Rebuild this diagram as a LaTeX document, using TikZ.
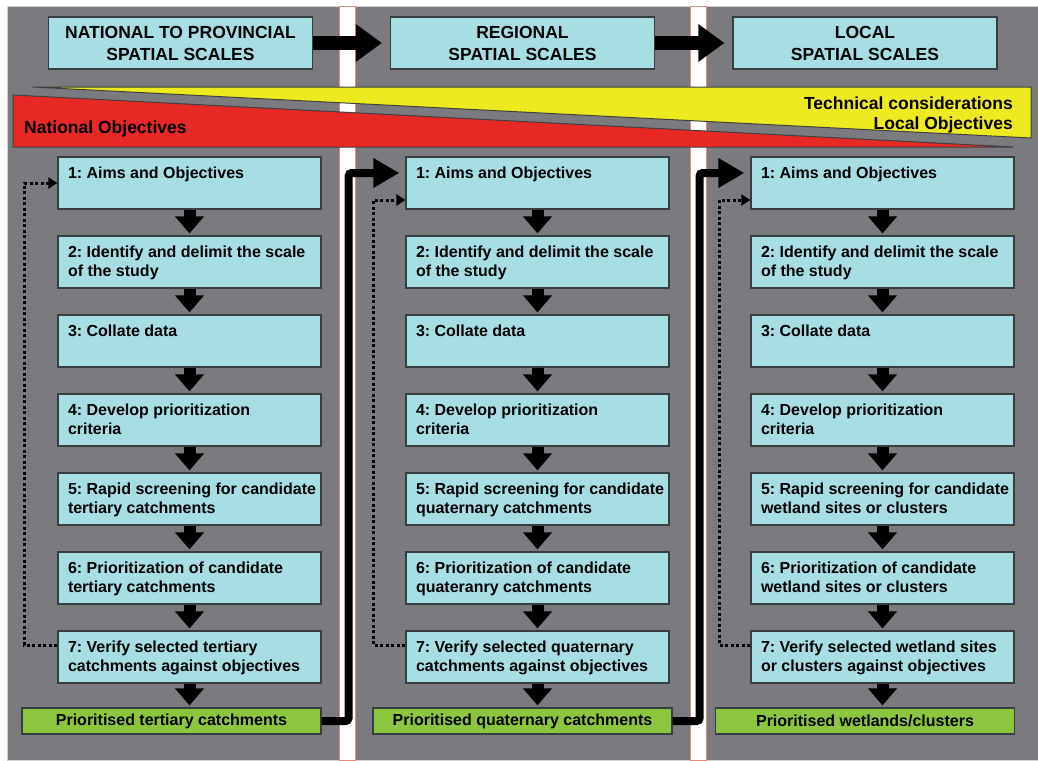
\documentclass[tikz,border=0pt]{standalone}
\usepackage{fontspec}
\setmainfont{Liberation Sans}
\usetikzlibrary{arrows.meta,positioning}
\frenchspacing
\definecolor{panelgray}{RGB}{122,122,127}
\definecolor{boxcyan}{RGB}{166,222,228}
\definecolor{boxgreen}{RGB}{140,198,62}
\definecolor{wedgered}{RGB}{232,40,36}
\definecolor{wedgeyellow}{RGB}{238,234,32}
\definecolor{stripline}{RGB}{226,140,120}
\definecolor{edgegray}{RGB}{55,62,64}
\tikzset{
  scalebox/.style={rectangle, draw=edgegray, line width=1.2pt, fill=boxcyan, minimum width=264pt,
                   minimum height=52pt, inner sep=0pt, align=center, font=\fontsize{17.5}{22}\selectfont\bfseries},
  stepbox/.style={rectangle, draw=edgegray, line width=1.2pt, fill=boxcyan, minimum width=263pt,
                  minimum height=52pt, inner sep=0pt, font=\fontsize{16}{19}\selectfont\bfseries},
  resultbox/.style={rectangle, draw=edgegray, line width=1.2pt, fill=boxgreen, minimum width=299pt,
                    minimum height=26pt, inner sep=0pt, font=\fontsize{16}{18}\selectfont\bfseries},
  wedgetext/.style={inner sep=0pt, font=\fontsize{17.5}{20.5}\selectfont\bfseries},
}
\newcommand{\steptext}[1]{\parbox[c][40pt][t]{263pt}{\vspace*{4pt}\raggedright\leftskip=10pt #1}}

\begin{document}
\begin{tikzpicture}[
        x=1pt, y=-1pt,
        scalearrow/.style={line width=14pt, -{Triangle[length=26pt,width=36pt]}, shorten >=8pt},
        flowarrow/.style={line width=12pt, -{Triangle[length=17pt,width=28pt]}, shorten >=2pt},
        link/.style={line width=8pt, rounded corners=3pt, -{Triangle[length=26pt,width=28pt]}, shorten >=6pt},
        feedback/.style={line width=3pt, dash pattern=on 3pt off 2.5pt, -{Triangle[length=9pt,width=11pt]}}
    ]
    \useasboundingbox (0,0) rectangle (1038,760);

    % Background panel and column separators
    \fill[panelgray, draw=gray!35, line width=1pt] (7,7) rectangle (1038,760);
    \fill[white, draw=stripline, line width=1pt] (339,7) rectangle (355,760);
    \fill[white, draw=stripline, line width=1pt] (690,7) rectangle (706,760);

    % Spatial scales
    \node[scalebox] (nat) at (180.5,43) {NATIONAL TO PROVINCIAL\\SPATIAL SCALES};
    \node[scalebox] (reg) at (522.5,43) {REGIONAL\\SPATIAL SCALES};
    \node[scalebox] (loc) at (865,43) {LOCAL\\SPATIAL SCALES};
    \draw[scalearrow] (nat) -- (reg);
    \draw[scalearrow] (reg) -- (loc);

    % Objective wedges
    \filldraw[fill=wedgeyellow, draw=black!75, line width=1pt] (32,87) -- (1031,87) -- (1031,138) -- cycle;
    \filldraw[fill=wedgered, draw=black!75, line width=1pt] (13,95) -- (1013,147) -- (13,147) -- cycle;
    \node[wedgetext, anchor=west] (natobj) at (24,129) {National Objectives};
    \node[wedgetext, anchor=east, align=right] (locobj) at (1013,115) {Technical considerations\\Local Objectives};

    % National to provincial steps
    \node[stepbox] (n1) at (189.5,183) {\steptext{1: Aims and Objectives}};
    \node[stepbox] (n2) at (189.5,262) {\steptext{2: Identify and delimit the scale\\of the study}};
    \node[stepbox] (n3) at (189.5,341) {\steptext{3: Collate data}};
    \node[stepbox] (n4) at (189.5,420) {\steptext{4: Develop prioritization\\criteria}};
    \node[stepbox] (n5) at (189.5,499) {\steptext{5: Rapid screening for candidate\\tertiary catchments}};
    \node[stepbox] (n6) at (189.5,578) {\steptext{6: Prioritization of candidate\\tertiary catchments}};
    \node[stepbox] (n7) at (189.5,657) {\steptext{7: Verify selected tertiary\\catchments against objectives}};
    \node[resultbox] (nres) at (171.5,721) {Prioritised tertiary catchments};

    % Regional steps
    \node[stepbox] (r1) at (537.5,183) {\steptext{1: Aims and Objectives}};
    \node[stepbox] (r2) at (537.5,262) {\steptext{2: Identify and delimit the scale\\of the study}};
    \node[stepbox] (r3) at (537.5,341) {\steptext{3: Collate data}};
    \node[stepbox] (r4) at (537.5,420) {\steptext{4: Develop prioritization\\criteria}};
    \node[stepbox] (r5) at (537.5,499) {\steptext{5: Rapid screening for candidate\\quaternary catchments}};
    \node[stepbox] (r6) at (537.5,578) {\steptext{6: Prioritization of candidate\\quateranry catchments}};
    \node[stepbox] (r7) at (537.5,657) {\steptext{7: Verify selected quaternary\\catchments against objectives}};
    \node[resultbox] (rres) at (522.5,721) {Prioritised quaternary catchments};

    % Local steps
    \node[stepbox] (l1) at (882.5,183) {\steptext{1: Aims and Objectives}};
    \node[stepbox] (l2) at (882.5,262) {\steptext{2: Identify and delimit the scale\\of the study}};
    \node[stepbox] (l3) at (882.5,341) {\steptext{3: Collate data}};
    \node[stepbox] (l4) at (882.5,420) {\steptext{4: Develop prioritization\\criteria}};
    \node[stepbox] (l5) at (882.5,499) {\steptext{5: Rapid screening for candidate\\wetland sites or clusters}};
    \node[stepbox] (l6) at (882.5,578) {\steptext{6: Prioritization of candidate\\wetland sites or clusters}};
    \node[stepbox] (l7) at (882.5,657) {\steptext{7: Verify selected wetland sites\\or clusters against objectives}};
    \node[resultbox] (lres) at (865,721) {Prioritised wetlands/clusters};

    % Step flow
    \draw[flowarrow] (n1) -- (n2);
    \draw[flowarrow] (n2) -- (n3);
    \draw[flowarrow] (n3) -- (n4);
    \draw[flowarrow] (n4) -- (n5);
    \draw[flowarrow] (n5) -- (n6);
    \draw[flowarrow] (n6) -- (n7);
    \draw[flowarrow] (n7.south) -- (n7.south |- nres.north);

    \draw[flowarrow] (r1) -- (r2);
    \draw[flowarrow] (r2) -- (r3);
    \draw[flowarrow] (r3) -- (r4);
    \draw[flowarrow] (r4) -- (r5);
    \draw[flowarrow] (r5) -- (r6);
    \draw[flowarrow] (r6) -- (r7);
    \draw[flowarrow] (r7.south) -- (r7.south |- rres.north);

    \draw[flowarrow] (l1) -- (l2);
    \draw[flowarrow] (l2) -- (l3);
    \draw[flowarrow] (l3) -- (l4);
    \draw[flowarrow] (l4) -- (l5);
    \draw[flowarrow] (l5) -- (l6);
    \draw[flowarrow] (l6) -- (l7);
    \draw[flowarrow] (l7.south) -- (l7.south |- lres.north);

    % Feedback loops (dotted)
    \draw[feedback] ([yshift=12pt]n7.west) -- ++(-33,0) |- (n1.west);
    \draw[feedback] ([yshift=12pt]r7.west) -- ++(-32,0) |- ([yshift=-17pt]r1.west);
    \draw[feedback] ([yshift=12pt]l7.west) -- ++(-31,0) |- ([yshift=-17pt]l1.west);

    % Links between scales
    \draw[link] (nres.east) -- ++(27,0) |- ([yshift=10pt]r1.west);
    \draw[link] (rres.east) -- ++(27,0) |- ([yshift=10pt]l1.west);

\end{tikzpicture}
\end{document}
